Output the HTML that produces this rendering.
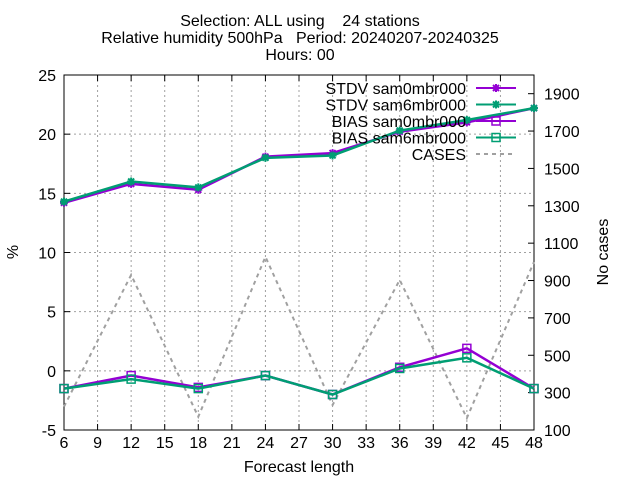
<!DOCTYPE html>
<html><head><meta charset="utf-8"><style>
body{margin:0;background:#fff}
svg{font-family:"Liberation Sans",sans-serif;font-size:16px}
.pre{white-space:pre}
</style></head><body>
<svg id="chart" width="640" height="480">
<g text-anchor="middle" fill="#000">
<text class="pre" x="300" y="26" xml:space="preserve">Selection: ALL using    24 stations</text>
<text class="pre" x="300" y="43" xml:space="preserve">Relative humidity 500hPa   Period: 20240207-20240325</text>
<text x="300" y="60">Hours: 00</text>
</g>
<g id="grid"></g>
<g id="axes"></g>
<g id="series"></g>
<text x="18" y="252" transform="rotate(-90 18 252)" text-anchor="middle">%</text>
<text x="608" y="252" transform="rotate(-90 608 252)" text-anchor="middle">No cases</text>
<text x="299" y="472" text-anchor="middle">Forecast length</text>
<g id="legend"></g>
</svg>
<script>
const hours=[6,12,18,24,30,36,42,48];
const stdv0=[14.2,15.8,15.3,18.1,18.4,20.2,21.0,22.2];
const stdv6=[14.3,16.0,15.5,18.0,18.2,20.3,21.2,22.2];
const bias0=[-1.5,-0.4,-1.4,-0.4,-2.0,0.3,1.9,-1.5];
const bias6=[-1.5,-0.7,-1.5,-0.4,-2.0,0.2,1.1,-1.5];
const cases=[225,930,171,1027,234,903,164,1000];
const xTicks=[6,9,12,15,18,21,24,27,30,33,36,39,42,45,48];
const yTicks=[-5,0,5,10,15,20,25];
const y2Ticks=[100,300,500,700,900,1100,1300,1500,1700,1900];
const L=64,R=534,T=75,B=430;
const X=v=>L+(v-6)/42*(R-L);
const Y=v=>B-(v+5)/30*(B-T);
const Y2=v=>B-(v-100)/1900*(B-T);
const NS='http://www.w3.org/2000/svg';
function mk(p,t,a){const e=document.createElementNS(NS,t);for(const k in a)e.setAttribute(k,a[k]);p.appendChild(e);return e;}
const g=document.getElementById('grid'),ax=document.getElementById('axes'),s=document.getElementById('series'),lg=document.getElementById('legend');
xTicks.forEach(v=>{const x=X(v);
 if(v>6&&v<48){const l=mk(g,'line',{x1:x,x2:x,y1:T,y2:B,stroke:'#a0a0a0','stroke-dasharray':'2,3'});}
 mk(ax,'line',{x1:x,x2:x,y1:B,y2:B-6,stroke:'#000'});mk(ax,'line',{x1:x,x2:x,y1:T,y2:T+6,stroke:'#000'});
 const t=mk(ax,'text',{x:x,y:B+18,'text-anchor':'middle'});t.textContent=v;});
yTicks.forEach(v=>{const y=Y(v);
 if(v>-5&&v<25){const l=mk(g,'line',{x1:L,x2:R,y1:y,y2:y,stroke:'#a0a0a0','stroke-dasharray':'2,3'});}
 mk(ax,'line',{x1:L,x2:L+6,y1:y,y2:y,stroke:'#000'});
 const t=mk(ax,'text',{x:L-8,y:y+6,'text-anchor':'end'});t.textContent=v;});
y2Ticks.forEach(v=>{const y=Y2(v);
 mk(ax,'line',{x1:R,x2:R-6,y1:y,y2:y,stroke:'#000'});
 const t=mk(ax,'text',{x:R+10,y:y+6});t.textContent=v;});
mk(ax,'rect',{x:L,y:T,width:R-L,height:B-T,fill:'none',stroke:'#000'});
function star(p,x,y,c){mk(p,'path',{d:`M${x-4},${y}H${x+4}M${x},${y-4}V${y+4}M${x-3},${y-3}L${x+3},${y+3}M${x-3},${y+3}L${x+3},${y-3}`,stroke:c,'stroke-width':2});}
function sq(p,x,y,c){mk(p,'rect',{x:x-4,y:y-4,width:8,height:8,fill:'none',stroke:c,'stroke-width':1.5});}
function line(data,yf,c,m,name,dash){
 const pts=data.map((v,i)=>X(hours[i])+','+yf(v)).join(' ');
 const pl=mk(s,'polyline',{points:pts,fill:'none',stroke:c,'stroke-width':dash?2:2.5});
 if(dash)pl.setAttribute('stroke-dasharray','4,4');
 
 if(m)data.forEach((v,i)=>m(s,X(hours[i]),yf(v),c));}
const P='#9400d3',G='#009e73';
line(cases,Y2,'#a0a0a0',null,'cases-line',true);
line(stdv0,Y,P,star,'stdv-sam0-line');
line(stdv6,Y,G,star,'stdv-sam6-line');
line(bias0,Y,P,sq,'bias-sam0-line');
line(bias6,Y,G,sq,'bias-sam6-line');
const leg=[['STDV sam0mbr000',P,star],['STDV sam6mbr000',G,star],['BIAS sam0mbr000',P,sq],['BIAS sam6mbr000',G,sq],['CASES','#a0a0a0',null]];
leg.forEach((e,i)=>{const y=88+i*16.5;
 const t=mk(lg,'text',{x:466,y:y+6,'text-anchor':'end'});t.textContent=e[0];
 const l=mk(lg,'line',{x1:476,x2:516,y1:y,y2:y,stroke:e[1],'stroke-width':2});
 if(!e[2])l.setAttribute('stroke-dasharray','4,4'); else e[2](lg,496,y,e[1]);});
</script>
</body></html>
